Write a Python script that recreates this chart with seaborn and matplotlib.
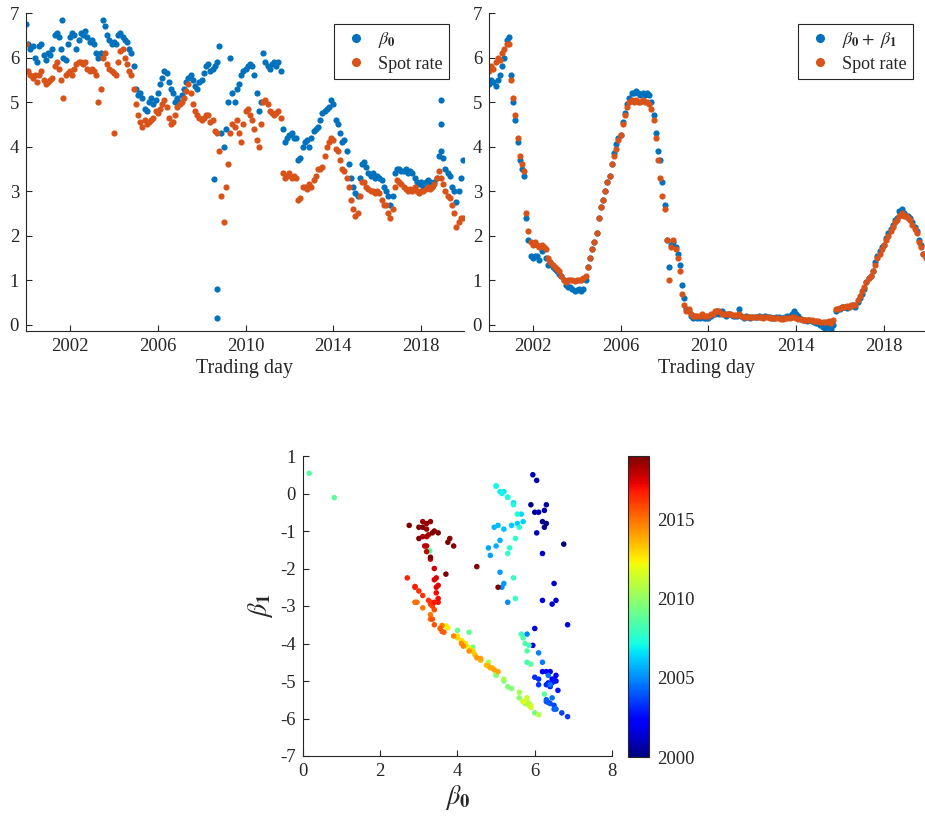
import numpy as np
import pandas as pd
import matplotlib
matplotlib.use("Agg")
import matplotlib.pyplot as plt
import seaborn as sns
from matplotlib.lines import Line2D
from matplotlib.colors import Normalize
from matplotlib.cm import ScalarMappable

# ---------------------------------------------------------------------------
# Nelson-Siegel factors, sampled every 0.1 year from 2000.0 to 2019.9
# ---------------------------------------------------------------------------
trade_day = 2000.0 + np.arange(200) / 10.0

# level factor beta0
beta0 = [
    6.75, 6.30, 6.20, 6.25, 6.00, 5.90, 6.25, 6.30, 6.05, 5.95,
    6.10, 6.05, 6.20, 6.50, 6.55, 6.45, 6.20, 6.00, 5.95, 6.30,
    6.45, 6.55, 6.50, 6.20, 6.40, 6.55, 6.50, 6.60, 6.45, 6.35,
    6.40, 6.30, 6.10, 6.00, 6.10, 6.85, 6.70, 6.50, 6.40, 6.30,
    6.35, 6.30, 6.50, 6.55, 6.45, 6.40, 6.35, 6.20, 6.10, 5.80,
    5.30, 5.15, 5.20, 5.10, 4.85, 4.80, 5.00, 5.10, 4.95, 5.05,
    5.20, 5.40, 5.55, 5.70, 5.65, 5.45, 5.30, 5.20, 5.00, 5.10,
    5.00, 5.15, 5.30, 5.45, 5.55, 5.60, 5.50, 5.35, 5.30, 5.45,
    5.50, 5.65, 5.80, 5.85, 5.70, 5.75, 5.80, 5.90, 6.25, 4.30,
    4.00, 4.40, 5.00, 6.00, 5.20, 5.00, 5.30, 5.40, 5.60, 5.70,
    5.75, 5.80, 5.85, 5.80, 5.60, 5.20, 4.80, 5.00, 6.10, 5.90,
    5.80, 5.75, 5.85, 5.90, 5.80, 5.90, 5.70, 4.40, 4.10, 4.20,
    4.25, 4.30, 4.20, 4.20, 3.70, 3.75, 4.00, 4.10, 4.15, 4.00,
    4.20, 4.35, 4.40, 4.45, 4.60, 4.75, 4.80, 4.85, 4.90, 5.05,
    4.95, 4.60, 4.50, 4.30, 4.10, 4.15, 3.90, 3.60, 3.30, 3.10,
    2.95, 2.90, 3.30, 3.60, 3.65, 3.55, 3.40, 3.35, 3.40, 3.30,
    3.35, 3.30, 3.25, 3.10, 3.00, 2.90, 2.70, 2.90, 3.40, 3.50,
    3.50, 3.45, 3.45, 3.50, 3.40, 3.45, 3.40, 3.30, 3.20, 3.15,
    3.20, 3.10, 3.20, 3.25, 3.20, 3.10, 3.20, 3.30, 3.80, 3.90,
    3.75, 3.50, 3.40, 3.35, 3.10, 3.00, 2.75, 3.00, 3.30, 3.70,
]

# long-maturity spot rate
spot_long = [
    6.30, 5.70, 5.60, 5.55, 5.60, 5.45, 5.60, 5.70, 5.50, 5.40,
    5.45, 5.50, 5.55, 5.80, 5.90, 5.75, 5.50, 5.10, 5.60, 5.65,
    5.70, 5.60, 5.75, 5.85, 5.90, 5.90, 5.85, 5.90, 5.75, 5.70,
    5.75, 5.70, 5.60, 5.00, 5.30, 6.00, 6.10, 5.85, 5.75, 5.70,
    5.65, 5.60, 5.90, 6.15, 6.20, 6.00, 5.85, 5.70, 5.60, 5.30,
    4.95, 4.70, 4.55, 4.45, 4.60, 4.50, 4.55, 4.60, 4.65, 4.80,
    4.75, 4.85, 4.95, 5.05, 4.90, 4.65, 4.50, 4.55, 4.70, 4.90,
    4.95, 5.00, 5.10, 5.25, 5.40, 5.20, 4.95, 4.80, 4.70, 4.65,
    4.60, 4.65, 4.70, 4.70, 4.55, 4.60, 4.35, 4.30, 3.90, 2.90,
    2.30, 3.10, 3.60, 4.30, 4.50, 4.45, 4.60, 4.30, 4.10, 4.50,
    4.80, 4.85, 4.70, 4.60, 4.40, 4.15, 4.00, 4.50, 5.00, 5.05,
    4.95, 4.80, 4.75, 4.70, 4.75, 4.80, 4.65, 3.40, 3.30, 3.35,
    3.40, 3.30, 3.35, 3.30, 2.80, 2.85, 3.10, 3.10, 3.05, 3.15,
    3.10, 3.25, 3.35, 3.50, 3.50, 3.55, 3.80, 4.00, 4.10, 4.20,
    4.15, 3.95, 3.90, 3.70, 3.50, 3.45, 3.30, 3.10, 2.80, 2.60,
    2.45, 2.50, 2.90, 3.20, 3.20, 3.10, 3.05, 3.00, 3.00, 2.95,
    3.00, 2.95, 2.80, 2.70, 2.70, 2.50, 2.40, 2.60, 3.10, 3.25,
    3.20, 3.15, 3.10, 3.05, 3.00, 3.05, 3.00, 3.10, 3.00, 2.95,
    3.00, 3.00, 3.05, 3.10, 3.05, 3.10, 3.15, 3.30, 3.45, 3.30,
    3.15, 3.00, 2.90, 2.85, 2.70, 2.50, 2.20, 2.30, 2.40, 2.40,
]

# short end: beta0 + beta1
beta0_plus_beta1 = [
    5.40, 5.50, 5.45, 5.35, 5.50, 5.60, 5.80, 6.00, 6.40, 6.45,
    5.60, 5.00, 4.60, 4.10, 3.70, 3.50, 3.35, 2.40, 1.90, 1.55,
    1.50, 1.55, 1.55, 1.45, 1.65, 1.70, 1.50, 1.35, 1.40, 1.30,
    1.25, 1.20, 1.15, 1.10, 1.00, 0.90, 0.85, 0.85, 0.80, 0.75,
    0.78, 0.80, 0.75, 0.80, 1.00, 1.30, 1.50, 1.70, 1.85, 2.05,
    2.40, 2.65, 2.80, 3.00, 3.20, 3.35, 3.60, 3.85, 4.05, 4.20,
    4.25, 4.55, 4.75, 4.95, 5.10, 5.20, 5.20, 5.25, 5.20, 5.15,
    5.20, 5.15, 5.20, 5.15, 5.00, 4.70, 4.30, 3.90, 3.70, 3.20,
    2.70, 1.90, 1.30, 1.80, 1.85, 1.75, 1.60, 1.35, 0.90, 0.60,
    0.35, 0.30, 0.20, 0.15, 0.20, 0.15, 0.15, 0.20, 0.15, 0.15,
    0.15, 0.20, 0.25, 0.25, 0.30, 0.25, 0.30, 0.25, 0.20, 0.25,
    0.25, 0.20, 0.20, 0.20, 0.35, 0.20, 0.15, 0.20, 0.18, 0.15,
    0.17, 0.18, 0.17, 0.20, 0.17, 0.17, 0.20, 0.18, 0.17, 0.15,
    0.15, 0.17, 0.18, 0.15, 0.15, 0.17, 0.20, 0.20, 0.25, 0.30,
    0.25, 0.20, 0.12, 0.10, 0.10, 0.08, 0.10, 0.08, 0.07, 0.05,
    0.05, 0.00, -0.05, -0.08, -0.05, -0.05, -0.10, 0.00, 0.30, 0.35,
    0.35, 0.40, 0.40, 0.38, 0.40, 0.42, 0.45, 0.40, 0.50, 0.60,
    0.70, 0.80, 0.95, 1.05, 1.10, 1.20, 1.40, 1.55, 1.65, 1.75,
    1.80, 1.95, 2.05, 2.15, 2.25, 2.35, 2.40, 2.55, 2.60, 2.50,
    2.45, 2.45, 2.40, 2.30, 2.20, 2.10, 1.90, 1.80, 1.60, 1.55,
]

# short-maturity spot rate
spot_short = [
    5.70, 5.80, 5.75, 5.90, 6.00, 5.95, 6.10, 6.20, 6.30, 6.30,
    5.50, 5.10, 4.70, 4.20, 3.80, 3.60, 3.45, 2.50, 2.10, 1.85,
    1.80, 1.85, 1.80, 1.75, 1.80, 1.75, 1.70, 1.50, 1.40, 1.35,
    1.30, 1.25, 1.20, 1.10, 1.00, 0.95, 1.00, 1.00, 1.00, 0.98,
    1.00, 1.00, 1.00, 1.05, 1.10, 1.30, 1.50, 1.70, 1.85, 2.05,
    2.40, 2.65, 2.80, 3.00, 3.20, 3.35, 3.60, 3.80, 3.95, 4.15,
    4.25, 4.50, 4.70, 4.90, 5.00, 5.05, 5.00, 5.05, 5.00, 5.00,
    5.05, 5.00, 5.00, 4.95, 4.85, 4.60, 4.20, 3.70, 3.30, 2.90,
    2.60, 1.90, 1.00, 1.75, 1.90, 1.70, 1.50, 1.20, 0.70, 0.45,
    0.30, 0.35, 0.25, 0.20, 0.20, 0.20, 0.20, 0.25, 0.20, 0.20,
    0.20, 0.25, 0.25, 0.30, 0.30, 0.30, 0.25, 0.25, 0.25, 0.25,
    0.25, 0.22, 0.22, 0.22, 0.25, 0.20, 0.18, 0.18, 0.17, 0.17,
    0.17, 0.17, 0.18, 0.17, 0.17, 0.15, 0.17, 0.18, 0.15, 0.15,
    0.15, 0.15, 0.15, 0.14, 0.14, 0.15, 0.15, 0.15, 0.17, 0.18,
    0.15, 0.13, 0.12, 0.10, 0.10, 0.10, 0.10, 0.10, 0.08, 0.08,
    0.08, 0.07, 0.07, 0.06, 0.07, 0.08, 0.05, 0.10, 0.35, 0.35,
    0.38, 0.40, 0.40, 0.42, 0.40, 0.45, 0.45, 0.45, 0.55, 0.65,
    0.75, 0.85, 0.95, 1.05, 1.10, 1.20, 1.35, 1.50, 1.60, 1.70,
    1.80, 1.90, 2.00, 2.10, 2.20, 2.30, 2.35, 2.45, 2.50, 2.45,
    2.45, 2.40, 2.35, 2.25, 2.15, 2.05, 1.85, 1.75, 1.60, 1.50,
]

# isolated days where the level estimate jumps away from its trend
extra_day = [2001.65, 2008.56, 2008.71, 2008.72, 2018.88, 2018.89]
beta0_extra = [6.85, 3.28, 0.81, 0.16, 5.05, 4.50]
beta0_plus_beta1_extra = [3.35, 1.75, 0.70, 0.70, 2.55, 2.55]

# spot-rate outlier on the long end
spot_long_extra_day = [2004.0]
spot_long_extra = [4.30]

# ---------------------------------------------------------------------------
BLUE = "#0072BD"
ORANGE = "#D95319"
INK = "#262626"
JET = matplotlib.colormaps["jet"]
TICK_FS = 13.5

sns.set_style("ticks")
plt.rcParams["font.family"] = ["Liberation Serif", "DejaVu Serif"]
plt.rcParams["mathtext.fontset"] = "stix"
plt.rcParams["axes.edgecolor"] = INK
plt.rcParams["axes.linewidth"] = 0.8
plt.rcParams["axes.unicode_minus"] = False

lvl = pd.DataFrame({
    "day": np.concatenate([trade_day, extra_day]),
    "beta0": np.concatenate([beta0, beta0_extra]),
    "short": np.concatenate([beta0_plus_beta1, beta0_plus_beta1_extra]),
})
lvl["beta1"] = lvl["short"] - lvl["beta0"]

spot_l = pd.DataFrame({
    "day": np.concatenate([trade_day, spot_long_extra_day]),
    "rate": np.concatenate([spot_long, spot_long_extra]),
})
short_df = pd.DataFrame({"day": trade_day, "short": beta0_plus_beta1,
                         "rate": spot_short})

W, H = 925, 819
fig = plt.figure(figsize=(W / 100, H / 100), dpi=100)


def frac(x0, y0, x1, y1):
    return [x0 / W, 1 - y1 / H, (x1 - x0) / W, (y1 - y0) / H]


ax1 = fig.add_axes(frac(26, 13, 464, 331))
ax2 = fig.add_axes(frac(489, 13, 925, 331))
ax3 = fig.add_axes(frac(303, 456, 612, 756))
cax = fig.add_axes(frac(628, 456, 649, 757))

dot = 20

# left: level factor vs long spot rate
sns.scatterplot(data=lvl, x="day", y="beta0", ax=ax1, color=BLUE, s=dot,
                linewidth=0, legend=False)
sns.scatterplot(data=spot_l, x="day", y="rate", ax=ax1, color=ORANGE, s=dot,
                linewidth=0, legend=False)

# right: short end vs short spot rate
sns.scatterplot(data=short_df, x="day", y="short", ax=ax2, color=BLUE, s=dot,
                linewidth=0, legend=False)
sns.scatterplot(data=short_df, x="day", y="rate", ax=ax2, color=ORANGE, s=dot,
                linewidth=0, legend=False)

for ax, xr in ((ax1, 2019.95), (ax2, 2019.87)):
    ax.set_xlim(2000, xr)
    ax.set_ylim(-0.14, 7.0)
    ax.set_xticks([2002, 2006, 2010, 2014, 2018])
    ax.set_yticks(range(0, 8))
    ax.set_xlabel("Trading day", fontsize=14.5, color=INK, labelpad=3)
    ax.set_ylabel("")

leg_kw = dict(loc="upper right", frameon=True, fancybox=False,
              edgecolor=INK, framealpha=1, fontsize=13, handlelength=1.8,
              handletextpad=0.3, borderpad=0.35, labelspacing=0.3,
              borderaxespad=0)
handles = [Line2D([], [], ls="none", marker="o", color=BLUE, markersize=5.5),
           Line2D([], [], ls="none", marker="o", color=ORANGE, markersize=5.5)]
lg1 = ax1.legend(handles, [r"$\beta_{\mathbf{0}}$", "Spot rate"],
                 bbox_to_anchor=(0.966, 0.966), **leg_kw)
lg2 = ax2.legend(handles, [r"$\beta_{\mathbf{0}}+\ \beta_{\mathbf{1}}$", "Spot rate"],
                 bbox_to_anchor=(0.972, 0.966), **leg_kw)
for lg in (lg1, lg2):
    lg.get_frame().set_linewidth(0.8)
    for t in lg.get_texts():
        t.set_color(INK)

# bottom: beta0 against beta1, coloured by date
norm = Normalize(vmin=2000, vmax=2019)
sns.scatterplot(data=lvl.sort_values("day"), x="beta0", y="beta1", hue="day",
                palette=JET, hue_norm=norm, ax=ax3, s=16, linewidth=0,
                legend=False)
ax3.set_xlim(0, 8)
ax3.set_ylim(-7, 1)
ax3.set_xticks([0, 2, 4, 6, 8])
ax3.set_yticks(range(-7, 2))
ax3.set_xlabel(r"$\beta_{\mathbf{0}}$", fontsize=19, color=INK, labelpad=2)
ax3.set_ylabel(r"$\beta_{\mathbf{1}}$", fontsize=19, color=INK, labelpad=4)

for ax in (ax1, ax2, ax3):
    sns.despine(ax=ax)
    ax.tick_params(direction="in", length=4, width=0.8, colors=INK,
                   labelsize=TICK_FS, pad=5)

cb = fig.colorbar(ScalarMappable(norm=norm, cmap=JET), cax=cax,
                  ticks=[2000, 2005, 2010, 2015])
cb.ax.set_yticklabels(["2000", "2005", "2010", "2015"])
cb.outline.set_edgecolor(INK)
cb.outline.set_linewidth(0.8)
cb.ax.tick_params(direction="in", length=4, width=0.8, colors=INK,
                  labelsize=TICK_FS, pad=6)

fig.savefig("out.png", dpi=100)
